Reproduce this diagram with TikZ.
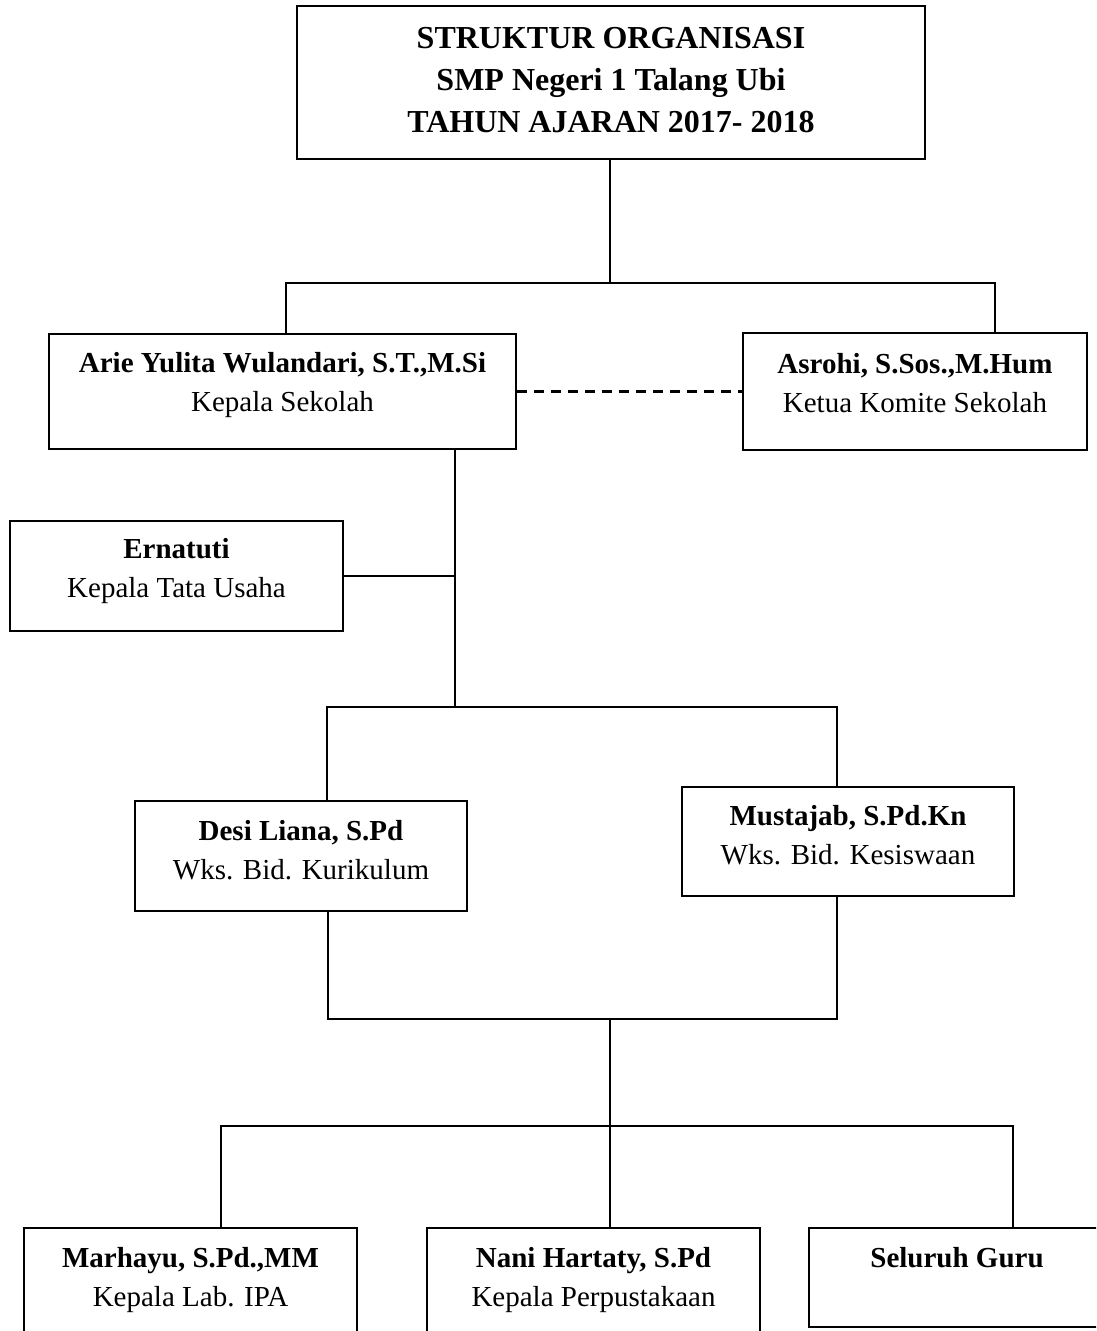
\documentclass[tikz,border=0pt]{standalone}
\usepackage{fontspec}
\setmainfont{Liberation Serif}

\begin{document}
\begin{tikzpicture}[x=1pt, y=-1pt, line width=2pt,
    box/.style={draw, rectangle, inner sep=0pt, align=center, anchor=north,
      font=\fontsize{29}{39}\selectfont},
    judul/.style={box, font=\fontsize{32}{42}\selectfont\bfseries}]
    \useasboundingbox (0,0) rectangle (1096,1331);
    \clip (0,0) rectangle (1096,1331);

    % kotak judul
    \node[judul, minimum width=628pt, text height=126pt, text depth=27pt] (judul) at (611,5)
        {STRUKTUR ORGANISASI\\SMP Negeri 1 Talang Ubi\\TAHUN AJARAN 2017- 2018};

    % kotak jabatan
    \node[box, minimum width=467pt, text height=77pt, text depth=38pt] (arie) at (282.5,333)
        {\textbf{Arie Yulita Wulandari, S.T.,M.Si}\\Kepala Sekolah};
    \node[box, minimum width=344pt, text height=79pt, text depth=38pt] (asrohi) at (915,332)
        {\textbf{Asrohi, S.Sos.,M.Hum}\\Ketua Komite Sekolah};
    \node[box, minimum width=333pt, text height=76pt, text depth=34pt] (ernatuti) at (176.5,520)
        {\textbf{Ernatuti}\\Kepala Tata Usaha};
    \node[box, minimum width=332pt, text height=78pt, text depth=32pt] (desi) at (301,800)
        {\textbf{Desi Liana, S.Pd}\\Wks. Bid. Kurikulum};
    \node[box, minimum width=332pt, text height=77pt, text depth=32pt] (mustajab) at (848,786)
        {\textbf{Mustajab, S.Pd.Kn}\\Wks. Bid. Kesiswaan};
    \node[box, minimum width=333pt, text height=78pt, text depth=40pt] (marhayu) at (190.5,1227)
        {\textbf{Marhayu, S.Pd.,MM}\\Kepala Lab. IPA};
    \node[box, minimum width=333pt, text height=78pt, text depth=40pt] (nani) at (593.5,1227)
        {\textbf{Nani Hartaty, S.Pd}\\Kepala Perpustakaan};
    \node[box, minimum width=296pt, text height=39pt, text depth=60pt] (seluruh) at (957,1227)
        {\textbf{Seluruh Guru}};

    % garis penghubung
    \coordinate (c1) at (610,283);
    \coordinate (c2) at (455,707);
    \coordinate (c3) at (610,1019);
    \coordinate (c4) at (610,1126);

    \draw (judul.south -| c1) -- (c1);
    \draw ([xshift=3.5pt]arie.north) |- (c1) -| ([xshift=80pt]asrohi.north);
    \draw[dashed, line width=2.5pt, dash pattern=on 10pt off 7pt] (arie.east) -- (asrohi.west);

    \draw (arie.south -| c2) -- (c2);
    \draw (ernatuti.east) -- (ernatuti.east -| c2);
    \draw ([xshift=26pt]desi.north) |- (c2) -| ([xshift=-11pt]mustajab.north);

    \draw ([xshift=27pt]desi.south) |- (c3) -| ([xshift=-11pt]mustajab.south);
    \draw (c3) -- (c4);
    \draw ([xshift=30.5pt]marhayu.north) |- (c4) -| ([xshift=56pt]seluruh.north);
    \draw (c4) -- (c4 |- nani.north);

\end{tikzpicture}
\end{document}
